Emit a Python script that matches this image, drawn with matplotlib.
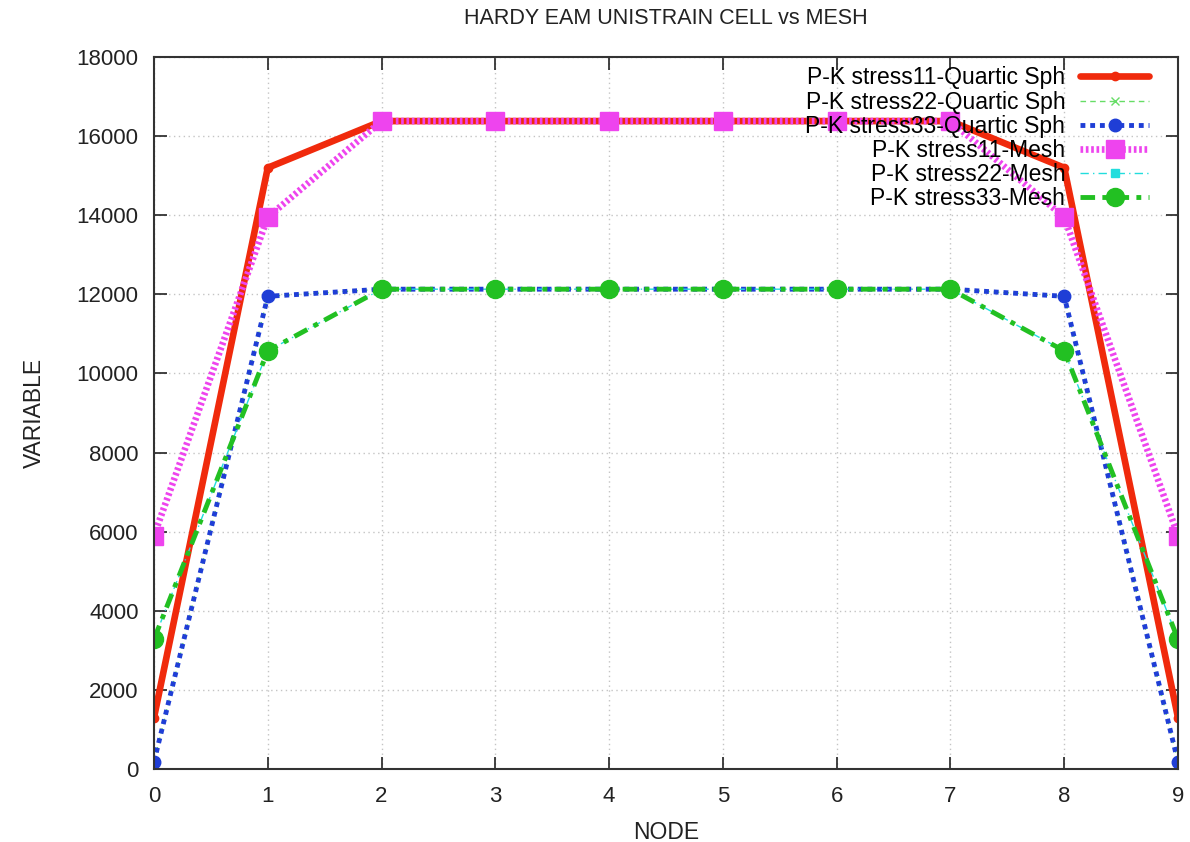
import matplotlib
matplotlib.use("Agg")
import matplotlib.pyplot as plt

nodes = [0, 1, 2, 3, 4, 5, 6, 7, 8, 9]
pk11_quartic = [1300, 15200, 16380, 16380, 16380, 16380, 16380, 16380, 15200, 1300]
pk22_quartic = [180, 11950, 12130, 12130, 12130, 12130, 12130, 12130, 11950, 180]
pk33_quartic = [180, 11950, 12130, 12130, 12130, 12130, 12130, 12130, 11950, 180]
pk11_mesh = [5900, 13950, 16380, 16380, 16380, 16380, 16380, 16380, 13950, 5900]
pk22_mesh = [3280, 10570, 12130, 12130, 12130, 12130, 12130, 12130, 10570, 3280]
pk33_mesh = [3280, 10570, 12130, 12130, 12130, 12130, 12130, 12130, 10570, 3280]

labels = ["P-K stress11-Quartic Sph", "P-K stress22-Quartic Sph", "P-K stress33-Quartic Sph",
          "P-K stress11-Mesh", "P-K stress22-Mesh", "P-K stress33-Mesh"]
xticks = list(range(0, 10))
yticks = list(range(0, 18001, 2000))

plt.rcParams['font.family'] = ['Liberation Sans', 'DejaVu Sans']

fig = plt.figure(figsize=(11.9, 8.42), dpi=100)
ax = fig.add_axes([154 / 1190, 1 - 769 / 842, (1178 - 154) / 1190, (769 - 57) / 842])

ax.plot(nodes, pk11_quartic, color='#f02a0c', lw=4.8, marker='o', ms=6, label=labels[0], solid_capstyle='round')
ax.plot(nodes, pk22_quartic, color='#66dd66', lw=1.0, ls=(0, (4, 3)), marker='x', ms=6, label=labels[1])
ax.plot(nodes, pk33_quartic, color='#1f3ed6', lw=3.5, ls=(0, (1, 1)), marker='o', ms=9, label=labels[2])
ax.plot(nodes, pk11_mesh, color='#ee44ee', lw=4.8, ls=(0, (0.4, 0.4)), marker='s', ms=13, label=labels[3])
ax.plot(nodes, pk22_mesh, color='#22dddd', lw=1.0, ls=(0, (6, 3, 1, 3)), marker='s', ms=6, label=labels[4])
ax.plot(nodes, pk33_mesh, color='#22c022', lw=3.5, ls=(0, (3, 1.5, 1, 1.5)), marker='o', ms=13, label=labels[5])

ax.set_xlim(0, 9)
ax.set_ylim(0, 18000)
ax.set_xticks(xticks)
ax.set_yticks(yticks)
ax.tick_params(direction='in', top=True, right=True, length=9, width=1.2, labelsize=16, colors='#222222')
ax.tick_params(axis='x', pad=12)
ax.tick_params(axis='y', pad=11)
ax.grid(True, color='#c4c4c4', ls=(0, (1, 2.5)), lw=1.0)
for s in ax.spines.values():
    s.set_linewidth(1.5)
    s.set_color('#333333')

ax.set_title("HARDY EAM UNISTRAIN CELL vs MESH", fontsize=15.5, pad=24, color='#222222')
ax.set_xlabel("NODE", fontsize=16.5, labelpad=10, color='#222222')
ax.set_ylabel("VARIABLE", fontsize=16.5, labelpad=22, color='#222222')

leg = ax.legend(loc='upper right', frameon=False, markerfirst=False, fontsize=16.5,
                handlelength=3.0, labelspacing=0.05, borderaxespad=0.2, handletextpad=0.65,
                bbox_to_anchor=(0.985, 1.006))
vp = leg._legend_box._children[-1]._children[0]
vp.align = "right"

fig.savefig("out.png", dpi=100)
